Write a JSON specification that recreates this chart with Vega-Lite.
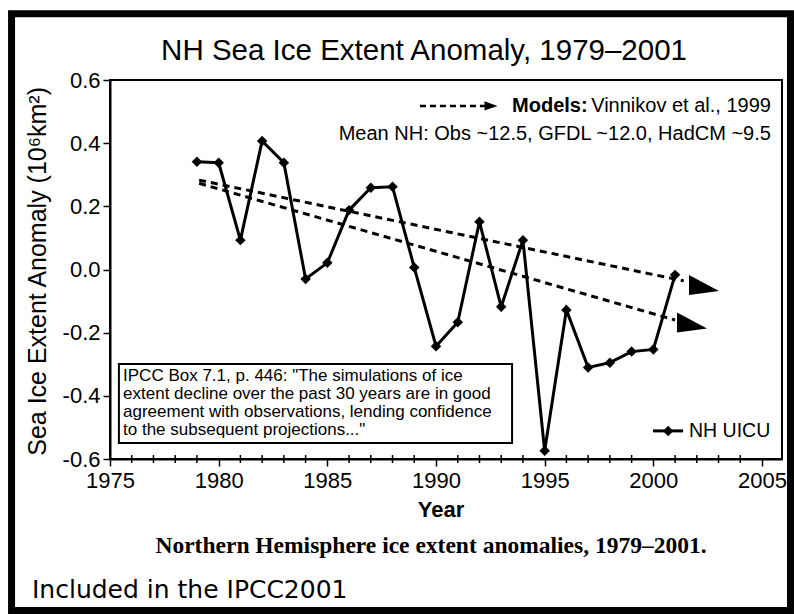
{
  "$schema": "https://vega.github.io/schema/vega-lite/v6.json",
  "width": 672,
  "height": 379,
  "autosize": "none",
  "padding": {"left": 110, "top": 80, "right": 12, "bottom": 155},
  "background": "white",
  "config": {"view": {"stroke": "black", "strokeWidth": 2}, "font": "Liberation Sans"},
  "datasets": {
    "obs": [
      {"year": 1979, "anomaly": 0.341},
      {"year": 1980, "anomaly": 0.338},
      {"year": 1981, "anomaly": 0.093},
      {"year": 1982, "anomaly": 0.407},
      {"year": 1983, "anomaly": 0.338},
      {"year": 1984, "anomaly": -0.03},
      {"year": 1985, "anomaly": 0.021},
      {"year": 1986, "anomaly": 0.188},
      {"year": 1987, "anomaly": 0.259},
      {"year": 1988, "anomaly": 0.262},
      {"year": 1989, "anomaly": 0.006},
      {"year": 1990, "anomaly": -0.243},
      {"year": 1991, "anomaly": -0.167},
      {"year": 1992, "anomaly": 0.151},
      {"year": 1993, "anomaly": -0.118},
      {"year": 1994, "anomaly": 0.093},
      {"year": 1995, "anomaly": -0.574},
      {"year": 1996, "anomaly": -0.128},
      {"year": 1997, "anomaly": -0.31},
      {"year": 1998, "anomaly": -0.295},
      {"year": 1999, "anomaly": -0.26},
      {"year": 2000, "anomaly": -0.253},
      {"year": 2001, "anomaly": -0.017}
    ],
    "models": [
      {"series": "upper", "year": 1979.1, "anomaly": 0.283},
      {"series": "upper", "year": 2001.4, "anomaly": -0.036},
      {"series": "lower", "year": 1979.1, "anomaly": 0.273},
      {"series": "lower", "year": 2001.0, "anomaly": -0.16}
    ],
    "arrows": [
      {"series": "upper", "year": 2002.33, "anomaly": -0.049},
      {"series": "lower", "year": 2001.78, "anomaly": -0.168}
    ],
    "minorTicks": [
      {"year": 1976}, {"year": 1977}, {"year": 1978}, {"year": 1979},
      {"year": 1981}, {"year": 1982}, {"year": 1983}, {"year": 1984},
      {"year": 1986}, {"year": 1987}, {"year": 1988}, {"year": 1989},
      {"year": 1991}, {"year": 1992}, {"year": 1993}, {"year": 1994},
      {"year": 1996}, {"year": 1997}, {"year": 1998}, {"year": 1999},
      {"year": 2001}, {"year": 2002}, {"year": 2003}, {"year": 2004}
    ]
  },
  "layer": [
    {
      "data": {"name": "models"},
      "mark": {"type": "line", "color": "black", "strokeWidth": 3, "strokeDash": [7, 5]},
      "encoding": {
        "x": {
          "field": "year",
          "type": "quantitative",
          "scale": {"domain": [1975, 2005.92], "nice": false, "zero": false},
          "axis": {
            "title": null,
            "values": [1975, 1980, 1985, 1990, 1995, 2000, 2005],
            "format": "d",
            "labelFontSize": 22,
            "labelFont": "Liberation Sans",
            "labelColor": "black",
            "labelOverlap": false,
            "labelFlush": false,
            "labelBound": false,
            "labelPadding": 4,
            "tickColor": "black",
            "tickWidth": 1.5,
            "tickSize": 7,
            "domainColor": "black",
            "domainWidth": 2,
            "grid": false
          }
        },
        "y": {
          "field": "anomaly",
          "type": "quantitative",
          "scale": {"domain": [-0.6, 0.6], "nice": false, "zero": false},
          "axis": {
            "title": null,
            "values": [-0.6, -0.4, -0.2, 0, 0.2, 0.4, 0.6],
            "labelExpr": "replace(format(datum.value, '.1f'), '−', '-')",
            "labelFontSize": 22,
            "labelFont": "Liberation Sans",
            "labelColor": "black",
            "labelOverlap": false,
            "labelPadding": 3,
            "tickColor": "black",
            "tickWidth": 1.5,
            "tickSize": 7,
            "domainColor": "black",
            "domainWidth": 2,
            "grid": false
          }
        },
        "detail": {"field": "series"}
      }
    },
    {
      "data": {"name": "minorTicks"},
      "mark": {"type": "tick", "orient": "vertical", "color": "black", "size": 8, "thickness": 1.5, "opacity": 1},
      "encoding": {
        "x": {"field": "year", "type": "quantitative"},
        "y": {"datum": -0.6}
      }
    },
    {
      "data": {"values": [{}]},
      "mark": {"type": "rect", "fill": "white", "fillOpacity": 0, "stroke": "black", "strokeWidth": 7},
      "encoding": {
        "x": {"datum": 1970.47},
        "x2": {"datum": 2006.31},
        "y": {"datum": 0.81},
        "y2": {"datum": -1.08}
      }
    },
    {
      "data": {"values": [{}]},
      "mark": {"type": "text", "text": "NH Sea Ice Extent Anomaly, 1979–2001", "fontSize": 29.5, "align": "center", "baseline": "alphabetic", "font": "Liberation Sans", "color": "black"},
      "encoding": {"x": {"datum": 1989.45}, "y": {"datum": 0.663}}
    },
    {
      "data": {"values": [{}]},
      "mark": {"type": "text", "text": "Sea Ice Extent Anomaly (10⁶km²)", "fontSize": 25, "angle": 270, "align": "center", "baseline": "middle", "font": "Liberation Sans", "color": "black"},
      "encoding": {"x": {"datum": 1971.71}, "y": {"datum": -0.006}}
    },
    {
      "data": {"values": [{}]},
      "mark": {"type": "text", "text": "Year", "fontSize": 22, "fontWeight": "bold", "align": "center", "baseline": "alphabetic", "font": "Liberation Sans", "color": "black"},
      "encoding": {"x": {"datum": 1990.23}, "y": {"datum": -0.784}}
    },
    {
      "data": {"values": [{}]},
      "mark": {"type": "text", "text": "Northern Hemisphere ice extent anomalies, 1979–2001.", "fontSize": 23.5, "fontWeight": "bold", "align": "center", "baseline": "alphabetic", "font": "Liberation Serif", "color": "black"},
      "encoding": {"x": {"datum": 1989.77}, "y": {"datum": -0.898}}
    },
    {
      "data": {"values": [{}]},
      "mark": {"type": "text", "text": "Included in the IPCC2001", "fontSize": 25, "align": "left", "baseline": "alphabetic", "font": "DejaVu Sans", "color": "black"},
      "encoding": {"x": {"datum": 1971.41}, "y": {"datum": -1.04}}
    },
    {
      "data": {"name": "arrows"},
      "mark": {"type": "point", "shape": "M-1,-0.67L1,0.4L-1,0.67Z", "size": 900, "filled": true, "color": "black", "opacity": 1},
      "encoding": {
        "x": {"field": "year", "type": "quantitative"},
        "y": {"field": "anomaly", "type": "quantitative"}
      }
    },
    {
      "data": {"name": "obs"},
      "mark": {"type": "line", "color": "black", "strokeWidth": 3, "point": {"filled": true, "shape": "diamond", "size": 110, "color": "black", "opacity": 1}},
      "encoding": {
        "x": {"field": "year", "type": "quantitative"},
        "y": {"field": "anomaly", "type": "quantitative"}
      }
    },
    {
      "data": {"values": [{}]},
      "mark": {"type": "rect", "fill": "white", "stroke": "black", "strokeWidth": 2},
      "encoding": {
        "x": {"datum": 1975.41},
        "x2": {"datum": 1993.5},
        "y": {"datum": -0.299},
        "y2": {"datum": -0.549}
      }
    },
    {
      "data": {"values": [{}]},
      "mark": {"type": "text", "text": ["IPCC Box 7.1, p. 446: \"The simulations of ice", "extent decline over the past 30 years are in good", "agreement with observations, lending confidence", "to the subsequent projections...\""], "fontSize": 17, "lineHeight": 18, "align": "left", "baseline": "alphabetic", "font": "Liberation Sans", "color": "black"},
      "encoding": {"x": {"datum": 1975.6}, "y": {"datum": -0.353}}
    },
    {
      "data": {"values": [{}]},
      "mark": {"type": "rule", "color": "black", "strokeWidth": 2.5, "strokeDash": [6, 4]},
      "encoding": {"x": {"datum": 1989.26}, "x2": {"datum": 1992.25}, "y": {"datum": 0.518}}
    },
    {
      "data": {"values": [{}]},
      "mark": {"type": "point", "shape": "M-1,-0.7L1,0L-1,0.7Z", "size": 169, "filled": true, "color": "black", "opacity": 1},
      "encoding": {"x": {"datum": 1992.53}, "y": {"datum": 0.518}}
    },
    {
      "data": {"values": [{}]},
      "mark": {"type": "text", "text": "Models:", "fontSize": 20, "fontWeight": "bold", "align": "left", "baseline": "alphabetic", "font": "Liberation Sans", "color": "black"},
      "encoding": {"x": {"datum": 1993.5}, "y": {"datum": 0.499}}
    },
    {
      "data": {"values": [{}]},
      "mark": {"type": "text", "text": "Vinnikov et al., 1999", "fontSize": 20, "align": "right", "baseline": "alphabetic", "font": "Liberation Sans", "color": "black"},
      "encoding": {"x": {"datum": 2005.41}, "y": {"datum": 0.499}}
    },
    {
      "data": {"values": [{}]},
      "mark": {"type": "text", "text": "Mean NH: Obs ~12.5, GFDL ~12.0, HadCM ~9.5", "fontSize": 20, "align": "right", "baseline": "alphabetic", "font": "Liberation Sans", "color": "black"},
      "encoding": {"x": {"datum": 2005.41}, "y": {"datum": 0.41}}
    },
    {
      "data": {"values": [{}]},
      "mark": {"type": "rule", "color": "black", "strokeWidth": 3},
      "encoding": {"x": {"datum": 1999.985}, "x2": {"datum": 2001.37}, "y": {"datum": -0.511}}
    },
    {
      "data": {"values": [{}]},
      "mark": {"type": "point", "shape": "diamond", "size": 110, "filled": true, "color": "black", "opacity": 1},
      "encoding": {"x": {"datum": 2000.68}, "y": {"datum": -0.511}}
    },
    {
      "data": {"values": [{}]},
      "mark": {"type": "text", "text": "NH UICU", "fontSize": 19.5, "align": "left", "baseline": "alphabetic", "font": "Liberation Sans", "color": "black"},
      "encoding": {"x": {"datum": 2001.64}, "y": {"datum": -0.53}}
    }
  ]
}
